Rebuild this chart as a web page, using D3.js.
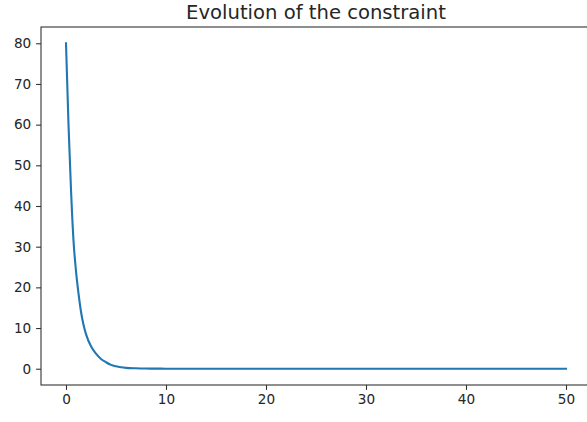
<!DOCTYPE html>
<html>
<head>
<meta charset="utf-8">
<script src="https://cdn.jsdelivr.net/npm/d3@7"></script>
<style>
  html, body { margin: 0; padding: 0; background: #fff; }
  svg { display: block; font-family: "DejaVu Sans", sans-serif; }
</style>
</head>
<body>
<svg id="chart"></svg>
<script>
// values
const iterations = [0, 0.25, 0.5, 0.75, 1, 1.25, 1.5, 1.75, 2, 2.5, 3, 3.5, 4, 4.5, 5, 5.5, 6, 7, 8, 9, 10, 12, 20, 30, 40, 50];
const constraint = [80, 60, 44, 31.5, 24, 18.5, 14, 10.8, 8.5, 5.5, 3.7, 2.4, 1.6, 0.95, 0.6, 0.37, 0.22, 0.1, 0.04, 0.02, 0.01, 0, 0, 0, 0, 0];
const xTicks = [0, 10, 20, 30, 40, 50];
const yTicks = [0, 10, 20, 30, 40, 50, 60, 70, 80];
const title = "Evolution of the constraint";

const W = 587, H = 422;
const margin = { top: 27, right: -4, bottom: 37, left: 41 };
const width = W - margin.left - margin.right;
const height = H - margin.top - margin.bottom;

const svg = d3.select("#chart").attr("width", W).attr("height", H);
const g = svg.append("g").attr("transform", `translate(${margin.left},${margin.top})`);

const x = d3.scaleLinear().domain([-2.5, 52.5]).range([0, width]);
const y = d3.scaleLinear().domain([-4, 84]).range([height, 0]);

const styleAxis = sel => {
    sel.select(".domain").remove();
    sel.selectAll(".tick line").attr("stroke", "#333").attr("stroke-width", 1.1);
    sel.selectAll(".tick text").attr("fill", "#262626").style("font-size", "13.6px")
        .style("font-family", "DejaVu Sans, sans-serif");
};

g.append("g").attr("transform", `translate(0,${height})`)
    .call(d3.axisBottom(x).tickValues(xTicks).tickSize(4.9).tickPadding(4.9))
    .call(styleAxis);

g.append("g")
    .call(d3.axisLeft(y).tickValues(yTicks).tickSize(4.9).tickPadding(4.9))
    .call(styleAxis);

const line = d3.line()
    .x((d, i) => x(iterations[i]))
    .y(d => y(d))
    .curve(d3.curveMonotoneX);

g.append("path")
    .datum(constraint)
    .attr("d", line)
    .attr("fill", "none")
    .attr("stroke", "#1f77b4")
    .attr("stroke-width", 2.1)
    .attr("stroke-linecap", "square");

// spines
g.append("rect")
    .attr("x", 0).attr("y", 0)
    .attr("width", width).attr("height", height)
    .attr("fill", "none")
    .attr("stroke", "#333")
    .attr("stroke-width", 1.1);

svg.append("text")
    .attr("x", margin.left + width / 2)
    .attr("y", 18.5)
    .attr("text-anchor", "middle")
    .attr("fill", "#262626")
    .style("font-size", "19.6px")
    .text(title);
</script>
</body>
</html>
